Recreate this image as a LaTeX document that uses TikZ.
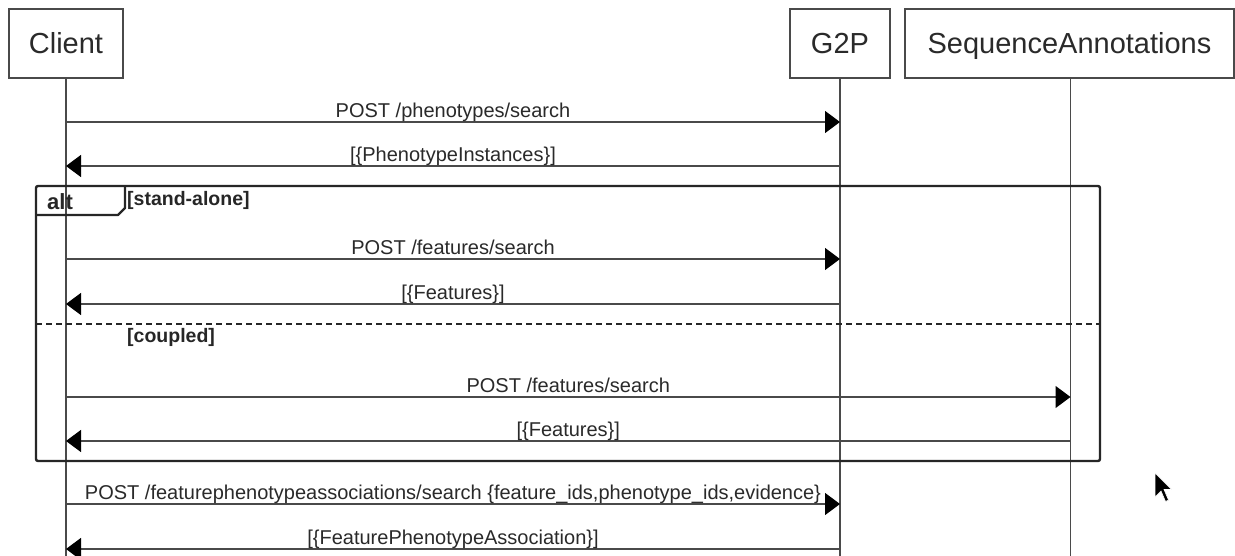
\documentclass[tikz,border=0pt]{standalone}
\usepackage{fontspec}
\setmainfont{Liberation Sans}
\usetikzlibrary{arrows.meta}
\definecolor{ink}{HTML}{2A2A2A}
\definecolor{rule}{HTML}{4A4A4A}
\tikzset{
  head/.style={draw=rule, line width=1.3pt, fill=white, inner sep=0pt,
    minimum height=69pt, text height=21pt, text depth=0pt,
    font=\fontsize{29}{32}\selectfont, text=ink},
  life/.style={draw=rule, line width=1.4pt},
  msg/.style={draw=rule, line width=1.3pt,
    -{Triangle[length=15pt,width=22pt,fill=black,color=black]}},
  lbl/.style={anchor=base, inner sep=0pt, yshift=4.5pt,
    font=\fontsize{20}{22}\selectfont, text=ink},
  frame/.style={draw=black!85, line width=2.4pt},
  guard/.style={anchor=base west, inner sep=0pt,
    font=\fontsize{19.5}{22}\selectfont\bfseries, text=black!85},
}
\begin{document}
\begin{tikzpicture}[x=1pt,y=-1pt]
\useasboundingbox (0,0) rectangle (1235,556);
\fill[white] (0,0) rectangle (1235,556);

% participants
\node[head, minimum width=114pt] (client) at (66,43.5) {Client};
\node[head, minimum width=100pt] (g2p) at (840,43.5) {G2P};
\node[head, minimum width=329pt] (seq) at (1069.5,43.5) {SequenceAnnotations};

% lifelines
\coordinate (clientEnd) at (client.south |- 0,556);
\coordinate (g2pEnd) at (g2p.south |- 0,556);
\coordinate (seqTop) at (1070.5,78);
\coordinate (seqEnd) at (1070.5,556);
\draw[life] (client.south) -- (clientEnd);
\draw[life] (g2p.south) -- (g2pEnd);
\draw[life] (seqTop) -- (seqEnd);

% message anchors on the lifelines
\foreach \n/\y in {1/122,2/166,3/259,4/304,5/397,6/441,7/504,8/549}{
  \coordinate (c\n) at (66,\y);
  \coordinate (g\n) at (840,\y);
  \coordinate (s\n) at (1070.5,\y);
}

% alt frame
\coordinate (fTL) at (36,186);
\coordinate (fBR) at (1100,461);
\draw[frame, rounded corners=2pt] (fTL) rectangle (fBR);
\draw[frame, line join=round] (36,215) -- (118,215) -- (125,208) -- (125,186);
\draw[frame, line width=2.6pt, dash pattern=on 6pt off 4pt] (36,324) -- (1100,324);
\node[anchor=base west, inner sep=0pt, font=\fontsize{22}{24}\selectfont\bfseries,
  text=black!85] (altlbl) at (47,210) {alt};
\node[guard] (g1lbl) at (127,205.5) {[stand-alone]};
\node[guard] (g2lbl) at (127,342) {[coupled]};

% messages
\draw[msg] (c1) -- node[lbl]{POST /phenotypes/search} (g1);
\draw[msg] (g2) -- node[lbl]{[\{PhenotypeInstances\}]} (c2);
\draw[msg] (c3) -- node[lbl]{POST /features/search} (g3);
\draw[msg] (g4) -- node[lbl]{[\{Features\}]} (c4);
\draw[msg] (c5) -- node[lbl]{POST /features/search} (s5);
\draw[msg] (s6) -- node[lbl]{[\{Features\}]} (c6);
\draw[msg] (c7) -- node[lbl]{POST /featurephenotypeassociations/search \{feature\_ids,phenotype\_ids,evidence\}} (g7);
\draw[msg] (g8) -- node[lbl]{[\{FeaturePhenotypeAssociation\}]} (c8);

% pointer
\begin{scope}[shift={(1155,473)}, scale=1.5]
\draw[fill=black, draw=white, line width=0.6pt, line join=miter]
  (0,0) -- (0,16) -- (4,12) -- (7,19) -- (9,18) -- (6,11) -- (11,11) -- cycle;
\end{scope}
\end{tikzpicture}
\end{document}
